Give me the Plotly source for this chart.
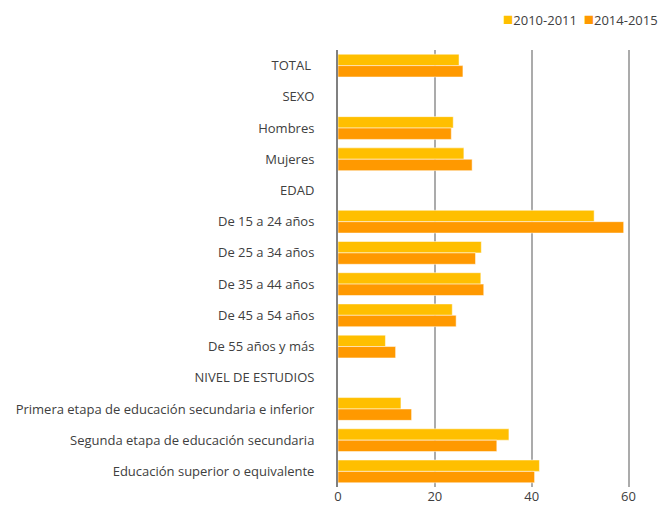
import plotly.graph_objects as go

categories = [
    "TOTAL ", "SEXO", "Hombres", "Mujeres", "EDAD",
    "De 15 a 24 años", "De 25 a 34 años", "De 35 a 44 años",
    "De 45 a 54 años", "De 55 años y más", "NIVEL DE ESTUDIOS",
    "Primera etapa de educación secundaria e inferior",
    "Segunda etapa de educación secundaria",
    "Educación superior o equivalente",
]

values_2010 = [25.0, None, 23.8, 26.0, None, 52.9, 29.6, 29.5, 23.6, 9.8, None, 13.0, 35.3, 41.6]
values_2014 = [25.8, None, 23.4, 27.7, None, 59.0, 28.4, 30.1, 24.4, 11.9, None, 15.2, 32.8, 40.6]

series_names = ["2010-2011", "2014-2015"]
colors = ["#FFBF00", "#FF9900"]
x_ticks = [0, 20, 40, 60]

fig = go.Figure()
for name, vals, col in zip(series_names, [values_2010, values_2014], colors):
    fig.add_trace(go.Bar(
        y=categories, x=vals, name=name, orientation="h",
        marker=dict(color=col, line=dict(color="rgba(255,255,255,0.5)", width=1)),
        showlegend=False,
    ))

legend_text = "&nbsp;&nbsp;".join(
    f'<span style="color:{c};font-size:17px">■</span>{n}' for n, c in zip(series_names, colors)
)

fig.update_layout(
    width=660, height=506,
    margin=dict(l=338, r=0, t=50, b=19, autoexpand=False),
    paper_bgcolor="white", plot_bgcolor="white",
    barmode="group", bargap=0.27, bargroupgap=0,
    font=dict(family="Open Sans, sans-serif", size=13, color="#404040"),
    showlegend=False,
    annotations=[dict(
        text=legend_text, xref="paper", yref="paper", x=1.0, xanchor="right",
        y=1.071, yanchor="middle", showarrow=False,
        font=dict(size=13, color="#404040"),
    )],
)
fig.update_xaxes(range=[0, 66.5], tickvals=x_ticks, showgrid=True,
                 gridcolor="#ababab", gridwidth=1.5, zeroline=False,
                 showline=False, ticks="", tickfont=dict(size=13, color="#404040"),
                 automargin=False)
fig.update_yaxes(autorange="reversed", type="category", showgrid=False,
                 showline=True, linecolor="#808080", linewidth=2,
                 ticks="", ticklabelstandoff=19,
                 tickfont=dict(size=13, color="#404040"), automargin=False)

fig.write_html("out.html", config={"displayModeBar": False})
with open("out.html", encoding="utf-8") as f:
    html = f.read()
html = html.replace("<head>", "<head><style>html,body{margin:0;padding:0;}</style>", 1)
with open("out.html", "w", encoding="utf-8") as f:
    f.write(html)
